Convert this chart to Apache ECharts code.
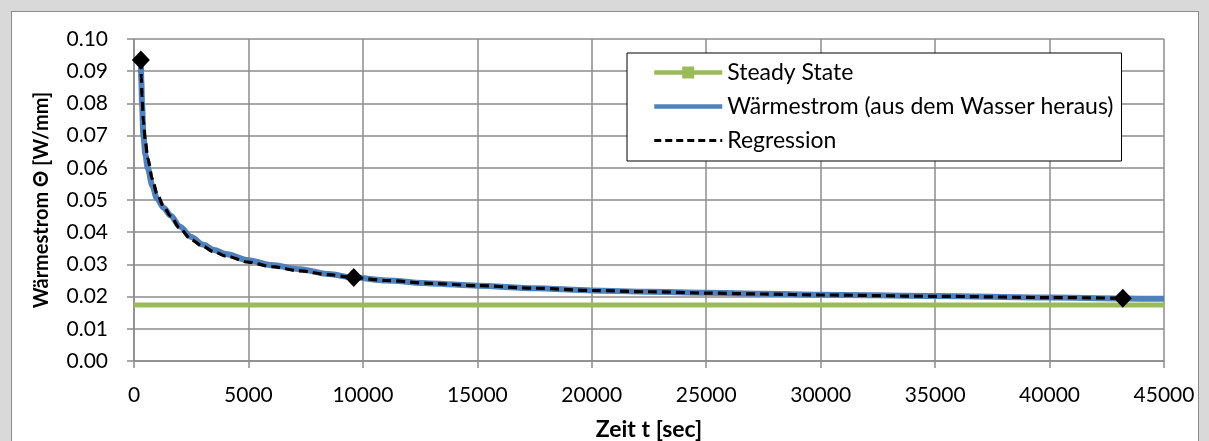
<!DOCTYPE html>
<html>
<head>
<meta charset="utf-8">
<script src="https://cdn.jsdelivr.net/npm/echarts@6/dist/echarts.min.js"></script>
<style>
  html, body { margin: 0; padding: 0; }
  #wrap { position: relative; width: 1209px; height: 441px; background: #d9d9d9; overflow: hidden; }
  #panel { position: absolute; left: 11px; top: 11px; width: 1188px; height: 450px; background: #ffffff; border: 1px solid #8c8c8c; box-sizing: border-box; }
  #chart { position: absolute; left: 0; top: 0; width: 1209px; height: 441px; }
</style>
</head>
<body>
<div id="wrap">
  <div id="panel"></div>
  <div id="chart"></div>
</div>
<script>
// Heat flow out of the water over time [sec] -> [W/mm]
const timeFlow = [300, 320, 350, 410, 500, 600, 800, 1000, 1300, 1600, 2000, 2500, 3000, 3500, 4000, 5000, 6000, 7255, 8500, 9600, 11000, 13000, 15000, 17500, 20000, 22500, 25000, 27500, 30000, 35000, 40000, 43200, 45000];
const heatFlow = [0.0930, 0.0870, 0.0800, 0.0700, 0.0640, 0.0600, 0.0545, 0.0505, 0.0475, 0.0452, 0.0418, 0.0385, 0.0362, 0.0345, 0.0332, 0.0313, 0.0298, 0.0285, 0.0270, 0.0259, 0.0250, 0.0241, 0.0234, 0.0226, 0.0219, 0.0215, 0.0212, 0.0209, 0.0206, 0.0202, 0.0197, 0.0194, 0.0193];

// Regression curve
const timeRegression = [300, 320, 350, 410, 500, 600, 800, 1000, 1300, 1600, 2000, 2500, 3000, 3500, 4000, 5000, 6000, 7255, 8500, 9600, 11000, 13000, 15000, 17500, 20000, 22500, 25000, 27500, 30000, 35000, 40000, 43200];
const heatRegression = [0.0935, 0.0880, 0.0825, 0.0745, 0.0680, 0.0630, 0.0565, 0.0520, 0.0478, 0.0450, 0.0412, 0.0377, 0.0356, 0.0339, 0.0326, 0.0307, 0.0293, 0.0280, 0.0268, 0.0259, 0.0250, 0.0241, 0.0234, 0.0226, 0.0219, 0.0215, 0.0211, 0.0208, 0.0205, 0.0201, 0.0197, 0.0195];

// Support points of the regression
const timeSupport = [300, 9600, 43200];
const heatSupport = [0.0935, 0.0259, 0.0195];

// Steady state level
const timeSteady = [0, 45000];
const heatSteady = [0.0174, 0.0174];

const seriesNames = ['Steady State', 'Wärmestrom (aus dem Wasser heraus)', 'Regression'];
const xAxisTitle = 'Zeit t [sec]';
const yAxisTitle = 'Wärmestrom Θ [W/mm]';

const zip = (xs, ys) => xs.map((x, i) => [x, ys[i]]);

const FONT = 'Lato';
const GRID = '#8c8c8c';
const GREEN = '#9bbb59';
const BLUE = '#4f81bd';

const chart = echarts.init(document.getElementById('chart'), null, { renderer: 'canvas' });
chart.setOption({
  backgroundColor: 'transparent',
  animation: false,
  textStyle: { fontFamily: FONT, color: '#000' },
  grid: { left: 134, top: 39, right: 45, bottom: 80, containLabel: false, outerBoundsMode: 'none' },
  legend: {
    data: [
      { name: seriesNames[0], lineStyle: { color: GREEN, width: 4.5 } },
      { name: seriesNames[1], itemStyle: { opacity: 0 }, lineStyle: { color: BLUE, width: 4.5 } },
      { name: seriesNames[2], itemStyle: { opacity: 0 }, lineStyle: { color: '#000', width: 3, type: [7, 4] } }
    ],
    orient: 'vertical',
    left: 627,
    top: 53,
    padding: [8, 8, 9, 25],
    itemWidth: 68,
    itemHeight: 15,
    itemGap: 11,
    backgroundColor: '#fff',
    borderColor: '#000',
    borderWidth: 1,
    textStyle: { fontFamily: FONT, fontSize: 23, color: '#000', lineHeight: 20 },
    selectedMode: false
  },
  xAxis: {
    type: 'value',
    min: 0,
    max: 45000,
    interval: 5000,
    name: xAxisTitle,
    nameLocation: 'middle',
    nameGap: 57,
    nameTextStyle: { fontFamily: FONT, fontWeight: 'bold', fontSize: 23, color: '#000' },
    axisLine: { show: true, lineStyle: { color: GRID, width: 1.5 } },
    axisTick: { show: true, length: 7, lineStyle: { color: GRID, width: 1.5 } },
    axisLabel: { fontFamily: FONT, fontSize: 21, color: '#000', margin: 24, formatter: v => String(v) },
    splitLine: { show: true, lineStyle: { color: GRID, width: 1.5 } }
  },
  yAxis: {
    type: 'value',
    min: 0,
    max: 0.1,
    interval: 0.01,
    name: yAxisTitle,
    nameLocation: 'middle',
    nameGap: 82,
    nameRotate: 90,
    nameTextStyle: { fontFamily: FONT, fontWeight: 'bold', fontSize: 20, color: '#000' },
    axisLine: { show: true, lineStyle: { color: GRID, width: 1.5 } },
    axisTick: { show: true, length: 7, lineStyle: { color: GRID, width: 1.5 } },
    axisLabel: { fontFamily: FONT, fontSize: 21, color: '#000', margin: 26, formatter: v => v.toFixed(2) },
    splitLine: { show: true, lineStyle: { color: GRID, width: 1.5 } }
  },
  series: [
    {
      name: seriesNames[0],
      type: 'line',
      data: zip(timeSteady, heatSteady),
      symbol: 'rect',
      showSymbol: false,
      itemStyle: { color: GREEN },
      lineStyle: { color: GREEN, width: 5 },
      z: 2
    },
    {
      name: seriesNames[1],
      type: 'line',
      data: zip(timeFlow, heatFlow),
      symbol: 'none',
      smooth: 0.3,
      smoothMonotone: 'x',
      itemStyle: { color: BLUE },
      lineStyle: { color: BLUE, width: 6 },
      z: 3
    },
    {
      name: seriesNames[2],
      type: 'line',
      data: zip(timeRegression, heatRegression),
      symbol: 'none',
      smooth: 0.3,
      smoothMonotone: 'x',
      itemStyle: { color: '#000' },
      lineStyle: { color: '#000', width: 3.2, type: [9, 5] },
      z: 4
    },
    {
      name: 'Stützstellen',
      type: 'scatter',
      data: zip(timeSupport, heatSupport),
      symbol: 'diamond',
      symbolSize: [18, 19],
      itemStyle: { color: '#000', opacity: 1 },
      z: 5
    }
  ]
});
</script>
</body>
</html>
